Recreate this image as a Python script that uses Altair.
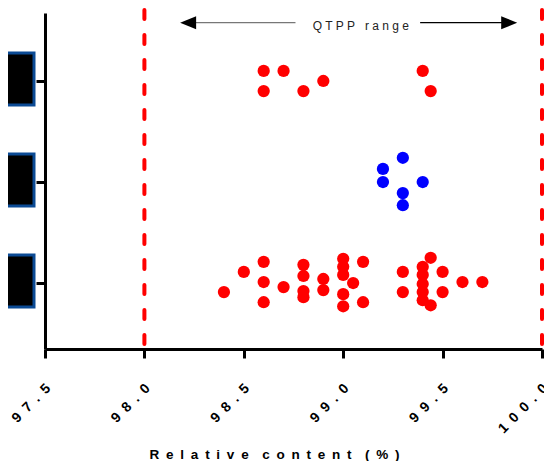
import altair as alt
import pandas as pd

# ---------------- data ----------------
categories = ["Group 1", "Group 2", "Group 3"]          # bottom, middle, top (labels are redacted boxes)
category_pos = [1, 2, 3]
category_color = ["#ff0000", "#0000ff", "#ff0000"]

group1_values = [98.4, 98.5, 98.6, 98.6, 98.6, 98.7, 98.8, 98.8, 98.8, 98.8,
                 98.9, 98.9, 99.0, 99.0, 99.0, 99.0, 99.0, 99.05, 99.1, 99.1,
                 99.3, 99.3, 99.4, 99.4, 99.4, 99.4, 99.4, 99.44, 99.44,
                 99.5, 99.5, 99.6, 99.7]
group1_jitter = [0.9, -1.1, -2.1, -0.1, 1.9, 0.4, -1.8, -0.7, 0.8, 1.4,
                 -0.4, 0.7, -2.4, -1.6, -0.8, 1.1, 2.3, 0.0, -2.1, 1.9,
                 -1.1, 0.9, -1.6, -0.8, 0.1, 0.9, 1.7, -2.5, 2.2,
                 -1.1, 0.9, -0.1, -0.1]

group2_values = [99.3, 99.2, 99.2, 99.4, 99.3, 99.3]
group2_jitter = [-2.4, -1.3, 0.0, 0.0, 1.1, 2.3]

group3_values = [98.6, 98.6, 98.7, 98.8, 98.9, 99.4, 99.44]
group3_jitter = [-1, 1, -1, 1, 0, -1, 1]

spec_limits = [98.0, 100.0]
tick_values = [97.5, 98.0, 98.5, 99.0, 99.5, 100.0]
x_title_words = ["Relative", "content", "(%)"]
annotation_text = "QTPP range"

# ---------------- build tables ----------------
JITTER_UNIT = 0.1   # one jitter step in category units
rows = []
for name, pos, col, vals, jit in zip(
        categories, category_pos, category_color,
        [group1_values, group2_values, group3_values],
        [group1_jitter, group2_jitter, group3_jitter]):
    for v, j in zip(vals, jit):
        rows.append({"group": name, "x": v, "y": pos - j * JITTER_UNIT, "c": col})
points = pd.DataFrame(rows)

boxes = pd.DataFrame({
    "group": categories,
    "y": [p + 0.02 - 0.257 for p in category_pos],
    "y2": [p + 0.02 + 0.257 for p in category_pos],
})

limits = pd.DataFrame({"x": spec_limits})

ARROW_Y = 3.577
arrow_lines = pd.DataFrame({
    "x": [98.20, 99.387],
    "x2": [98.76, 99.85],
    "y": [ARROW_Y, ARROW_Y],
    "c": ["#777777", "#000000"],
})
arrow_heads = pd.DataFrame({
    "x": [98.22, 99.835],
    "y": [ARROW_Y, ARROW_Y],
    "s": ["M-1,0L1,-0.82L1,0.82Z", "M1,0L-1,-0.82L-1,0.82Z"],
})
w1, w2 = annotation_text.split(" ")
label_df = pd.DataFrame({"x": [99.089], "y": [3.547],
                         "t": [" ".join(w1) + "\u00a0\u00a0 " + " ".join(w2)]})

EN = "\u2002"
x_title = (EN + EN).join(EN.join(list(w)) for w in x_title_words)

# ---------------- scales / axes ----------------
xscale = alt.Scale(domain=[97.5, 100.0], nice=False, zero=False)
yscale = alt.Scale(domain=[0.347, 3.673], nice=False, zero=False)

xaxis = alt.Axis(
    values=tick_values, format=".1f",
    labelExpr="join(split(datum.label, ''), '\u2002')",
    labelAngle=-45, labelAlign="right", labelBaseline="middle",
    labelPadding=28, labelOffset=3, labelFont="Liberation Sans", labelFontWeight="bold",
    labelFontSize=14, labelColor="black", labelFlush=False,
    labelOverlap=False, labelBound=False,
    title=x_title, titleFont="Liberation Sans", titleFontWeight="bold",
    titleFontSize=13.5, titleColor="black", titleX=229, titleY=109,
    titleBaseline="alphabetic", titleAlign="center",
)
yaxis = alt.Axis(values=category_pos, labels=False, title=None)

X = lambda f: alt.X(f, scale=xscale, axis=xaxis)
Y = lambda f: alt.Y(f, scale=yscale, axis=yaxis)

base_points = alt.Chart(points).mark_circle(size=150, opacity=1).encode(
    x=X("x:Q"), y=Y("y:Q"),
    color=alt.Color("c:N", scale=None),
)

box_layer = alt.Chart(boxes).mark_rect(
    fill="black", stroke="#0b4a94", strokeWidth=3
).encode(
    x=alt.value(-54), x2=alt.value(-11),
    y=Y("y:Q"), y2="y2:Q",
)

limit_layer = alt.Chart(limits).mark_rule(
    color="#ff0000", strokeWidth=4, strokeDash=[9, 16], strokeCap="round"
).encode(
    x=X("x:Q"),
    y=alt.value(-3), y2=alt.value(334),
)

line_layer = alt.Chart(arrow_lines).mark_rule(strokeWidth=1.3).encode(
    x=X("x:Q"), x2="x2:Q", y=Y("y:Q"),
    color=alt.Color("c:N", scale=None),
)

head_layer = alt.Chart(arrow_heads).mark_point(
    filled=True, color="black", size=256, opacity=1, strokeWidth=0
).encode(
    x=X("x:Q"), y=Y("y:Q"),
    shape=alt.Shape("s:N", scale=None),
)

text_layer = alt.Chart(label_df).mark_text(
    font="Liberation Sans", fontSize=12, color="#222222", baseline="middle", align="center"
).encode(
    x=X("x:Q"), y=Y("y:Q"), text="t:N",
)

chart = alt.layer(
    box_layer, limit_layer, line_layer, head_layer, text_layer, base_points
).properties(
    width=497, height=336,
    autosize=alt.AutoSizeParams(type="none"),
    padding={"left": 37, "top": 5, "right": 2, "bottom": 112},
).configure_view(stroke=None).configure_axis(
    grid=False, domainColor="black", domainWidth=3,
    tickColor="black", tickWidth=3, tickSize=9,
)

chart.save("out.html", embed_options={"renderer": "svg", "actions": False})
